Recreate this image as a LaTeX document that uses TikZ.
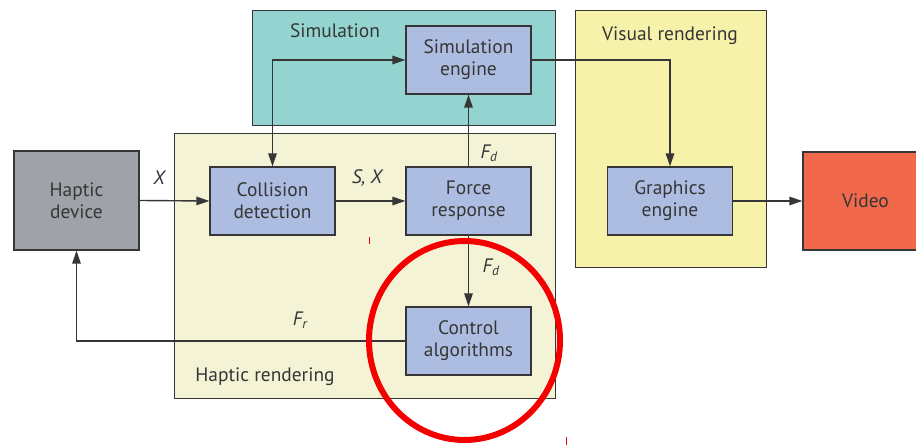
\documentclass[tikz,border=0pt]{standalone}
\usepackage{fontspec}
\setmainfont{PT Sans}
\usetikzlibrary{arrows.meta}
\definecolor{lineg}{HTML}{363636}
\definecolor{simfill}{HTML}{94D4D0}
\definecolor{hrfill}{HTML}{F4F3D6}
\definecolor{vrfill}{HTML}{F6F2AA}
\definecolor{blkfill}{HTML}{ADBDE2}
\definecolor{hdfill}{HTML}{9FA2A9}
\definecolor{vidfill}{HTML}{F1694A}
\definecolor{redmark}{HTML}{F40000}
\begin{document}
\begin{tikzpicture}[x=1bp,y=-1bp,
  txt/.style={font=\fontsize{19.5}{22}\selectfont, text=lineg},
  grp/.style={draw=lineg, line width=1.3bp, inner sep=0pt, anchor=north west},
  blk/.style={draw=lineg, line width=1.3bp, fill=blkfill, minimum width=125bp, minimum height=68bp, align=center, inner sep=0pt, txt},
  arr/.style={draw=lineg, line width=1.4bp, -{Triangle[length=13bp,width=8.5bp]}},
  arrb/.style={draw=lineg, line width=1.4bp, {Triangle[length=13bp,width=8.5bp]}-{Triangle[length=13bp,width=8.5bp]}},
  lbl/.style={font=\fontsize{19.5}{22}\selectfont\itshape, text=lineg, inner sep=0pt}
]
\useasboundingbox (0,0) rectangle (916,445);
\clip (0,0) rectangle (916,445);
% groups
\node[grp, fill=simfill, minimum width=303bp, minimum height=115bp] (sim) at (252,10) {};
\node[grp, fill=hrfill, minimum width=381bp, minimum height=265bp] (hr) at (174,133) {};
\node[grp, fill=vrfill, minimum width=191bp, minimum height=257bp] (vr) at (575,10) {};
\node[txt] (simlbl) at (335,31) {Simulation};
\node[txt] (vrlbl) at (670,36) {Visual rendering};
\node[txt] (hrlbl) at (265,377) {Haptic rendering};
% blocks
\node[blk, fill=hdfill, minimum height=99bp] (hd) at (76.5,200.5) {Haptic\\device};
\node[blk] (cd) at (272.5,201) {Collision\\detection};
\node[blk] (fr) at (468.5,201) {Force\\response};
\node[blk] (se) at (468.5,60) {Simulation\\engine};
\node[blk] (ge) at (670,201) {Graphics\\engine};
\node[blk] (ca) at (468.5,341) {Control\\algorithms};
\node[blk, fill=vidfill, minimum width=125bp, minimum height=98bp, text width=117bp] (vid) at (865.5,201) {Video};
% connectors
\draw[arr] (hd.east) -- (cd.west);
\draw[arr] (cd.east) -- (fr.west);
\draw[arr] (fr.north) -- (se.south);
\draw[arr] (se.east) -| (ge.north);
\draw[arrb] (cd.north) |- (se.west);
\draw[arr] (fr.south) -- (ca.north);
\draw[arr] (ca.west) -| (hd.south);
\draw[arr] (ge.east) -- (vid.west);
% labels
\node[lbl] (lx) at (159,178) {X};
\node[lbl] (lsx) at (367,178) {S, X};
\node[lbl] (lfd1) at (489,153) {F\textsubscript{d}};
\node[lbl] (lfd2) at (491,267) {F\textsubscript{d}};
\node[lbl] (lfr) at (300,320) {F\textsubscript{r}};
% red annotation
\draw[redmark, line width=6bp] (464.5,340.5) ellipse [x radius=95.5, y radius=99.5];
\draw[redmark, line width=1bp] (369,237) -- (369,244);
\draw[redmark, line width=1bp] (566,437) -- (566,445);
\end{tikzpicture}
\end{document}
